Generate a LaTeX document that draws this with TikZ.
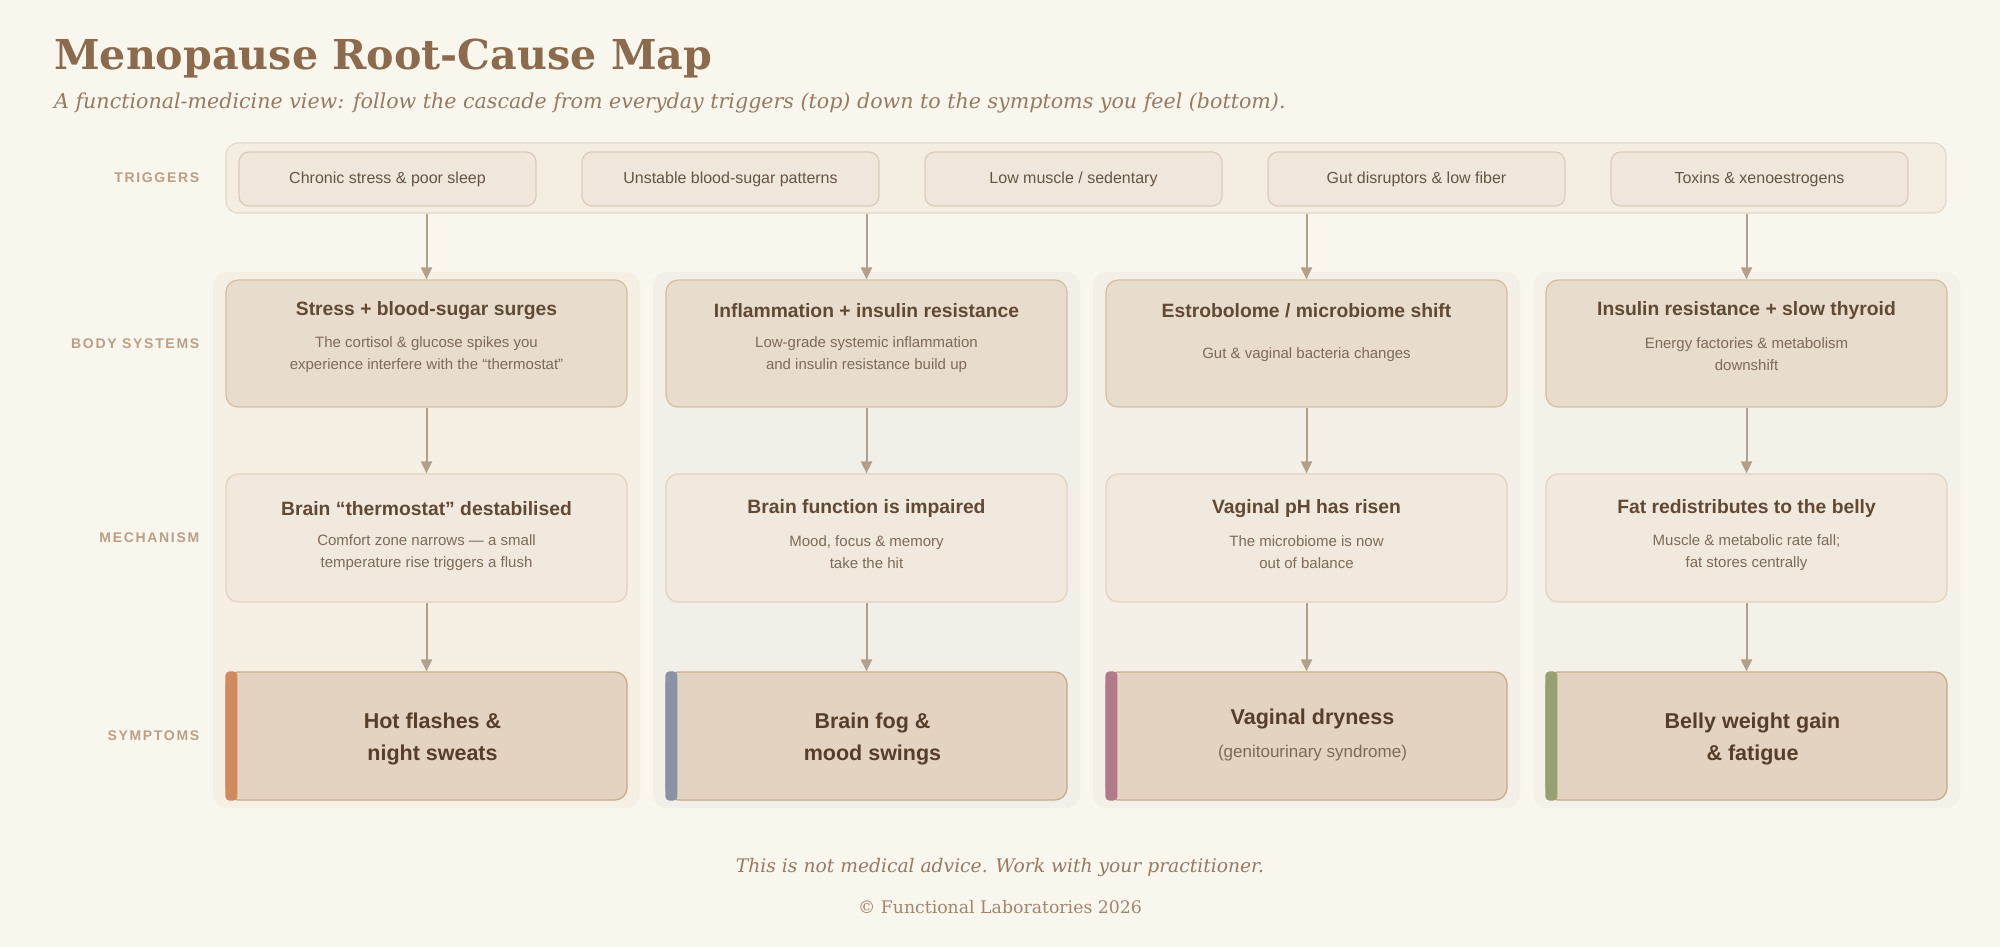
\documentclass[tikz,border=0pt]{standalone}
\usepackage{fontspec}
\setmainfont{DejaVu Serif}
\setsansfont{Liberation Sans}
\newfontfamily\rowfont[LetterSpace=12]{Liberation Sans}
\usetikzlibrary{arrows.meta, positioning, calc}
\definecolor{pagebg}{RGB}{249, 246, 238}
\definecolor{titlec}{RGB}{139, 106, 77}
\definecolor{subc}{RGB}{150, 122, 98}
\definecolor{footc}{RGB}{160, 134, 110}
\definecolor{rowc}{RGB}{185, 160, 135}
\definecolor{rowbg}{RGB}{244, 237, 226}
\definecolor{rowline}{RGB}{228, 216, 200}
\definecolor{trigfill}{RGB}{240, 231, 220}
\definecolor{trigline}{RGB}{218, 204, 187}
\definecolor{trigtxt}{RGB}{100, 85, 70}
\definecolor{panelA}{RGB}{246, 239, 228}
\definecolor{panelB}{RGB}{242, 239, 233}
\definecolor{panelC}{RGB}{244, 239, 231}
\definecolor{panelD}{RGB}{244, 241, 233}
\definecolor{sysfill}{RGB}{232, 221, 204}
\definecolor{sysline}{RGB}{212, 190, 162}
\definecolor{mechfill}{RGB}{241, 233, 222}
\definecolor{mechline}{RGB}{225, 210, 192}
\definecolor{symfill}{RGB}{227, 211, 192}
\definecolor{symline}{RGB}{196, 170, 140}
\definecolor{headtxt}{RGB}{96, 73, 53}
\definecolor{desctxt}{RGB}{125, 106, 90}
\definecolor{symtxt}{RGB}{85, 62, 42}
\definecolor{arrowc}{RGB}{176, 160, 140}
\definecolor{hotbar}{RGB}{208, 138, 98}
\definecolor{fogbar}{RGB}{138, 146, 166}
\definecolor{drybar}{RGB}{176, 122, 140}
\definecolor{bellybar}{RGB}{150, 160, 112}

\begin{document}
\begin{tikzpicture}[
    x=1pt, y=-1pt,
    panel/.style={rounded corners=14pt, minimum width=427pt,
                  minimum height=536pt, inner sep=0pt},
    trigbox/.style={draw=trigline, fill=trigfill, line width=1.2pt,
                    rounded corners=10pt, minimum width=297pt,
                    minimum height=54pt, inner sep=0pt, text=trigtxt,
                    font=\sffamily\fontsize{16}{19}\selectfont},
    sysbox/.style={draw=sysline, fill=sysfill, line width=1.2pt,
                   rounded corners=12pt, minimum width=401pt,
                   minimum height=127pt, inner sep=0pt},
    mechbox/.style={draw=mechline, fill=mechfill, line width=1.2pt,
                    rounded corners=12pt, minimum width=401pt,
                    minimum height=128pt, inner sep=0pt},
    symbox/.style={draw=symline, fill=symfill, line width=1.2pt,
                   rounded corners=12pt, minimum width=401pt,
                   minimum height=128pt, inner sep=0pt},
    headtext/.style={text=headtxt, inner sep=0pt,
                     font=\sffamily\bfseries\fontsize{19.3}{22}\selectfont},
    desctext/.style={text=desctxt, align=center, inner sep=0pt,
                     font=\sffamily\fontsize{15}{22}\selectfont},
    symtext/.style={text=symtxt, align=center, inner sep=0pt,
                    font=\sffamily\bfseries\fontsize{21.5}{32}\selectfont},
    rowlbl/.style={text=rowc, inner sep=0pt,
                   font=\rowfont\bfseries\fontsize{14}{16}\selectfont},
    arr/.style={-{Triangle[length=12pt, width=11pt]}, line width=2pt,
                draw=arrowc},
  ]
    \fill[pagebg] (0,0) rectangle (2000,947);
    \useasboundingbox (0,0) rectangle (2000,947);

    % Heading
    \node[anchor=base west, inner sep=0pt, text=titlec,
          font=\bfseries\fontsize{41.2}{50}\selectfont] (maptitle) at (54,70)
      {Menopause Root-Cause Map};
    \node[anchor=base west, inner sep=0pt, text=subc,
          font=\itshape\fontsize{20.6}{24}\selectfont] (subtitle) at (54,109)
      {A functional-medicine view: follow the cascade from everyday triggers (top) down to the symptoms you feel (bottom).};

    % Column panels
    \node[panel, fill=panelA] (p1) at (426.5,540)  {};
    \node[panel, fill=panelB] (p2) at (866.5,540)  {};
    \node[panel, fill=panelC] (p3) at (1306.5,540) {};
    \node[panel, fill=panelD] (p4) at (1746.5,540) {};

    % Trigger row
    \node[draw=rowline, fill=rowbg, line width=1.2pt, rounded corners=12pt,
          minimum width=1720pt, minimum height=70pt, inner sep=0pt]
      (trigrow) at (1086,178) {};
    \node[trigbox] (t1) at (387.5,179)  {Chronic stress \& poor sleep};
    \node[trigbox] (t2) at (730.5,179)  {Unstable blood-sugar patterns};
    \node[trigbox] (t3) at (1073.5,179) {Low muscle / sedentary};
    \node[trigbox] (t4) at (1416.5,179) {Gut disruptors \& low fiber};
    \node[trigbox] (t5) at (1759.5,179) {Toxins \& xenoestrogens};

    % Body systems
    \node[sysbox] (b1) at (426.5,343.5)  {};
    \node[sysbox] (b2) at (866.5,343.5)  {};
    \node[sysbox] (b3) at (1306.5,343.5) {};
    \node[sysbox] (b4) at (1746.5,343.5) {};
    \node[headtext] (b1h) at ([yshift=-31pt]b1.north) {Stress + blood-sugar surges};
    \node[desctext] (b1d) at ([yshift=-75pt]b1.north)
      {The cortisol \& glucose spikes you\\experience interfere with the “thermostat”};
    \node[headtext] (b2h) at ([yshift=-31pt]b2.north) {Inflammation + insulin resistance};
    \node[desctext] (b2d) at ([yshift=-75pt]b2.north)
      {Low-grade systemic inflammation\\and insulin resistance build up};
    \node[headtext] (b3h) at ([yshift=-31pt]b3.north) {Estrobolome / microbiome shift};
    \node[desctext] (b3d) at ([yshift=-75pt]b3.north)
      {Gut \& vaginal bacteria changes};
    \node[headtext] (b4h) at ([yshift=-31pt]b4.north) {Insulin resistance + slow thyroid};
    \node[desctext] (b4d) at ([yshift=-75pt]b4.north)
      {Energy factories \& metabolism\\downshift};

    % Mechanisms
    \node[mechbox] (m1) at (426.5,538)  {};
    \node[mechbox] (m2) at (866.5,538)  {};
    \node[mechbox] (m3) at (1306.5,538) {};
    \node[mechbox] (m4) at (1746.5,538) {};
    \node[headtext] (m1h) at ([yshift=-35pt]m1.north) {Brain “thermostat” destabilised};
    \node[desctext] (m1d) at ([yshift=-79pt]m1.north)
      {Comfort zone narrows — a small\\temperature rise triggers a flush};
    \node[headtext] (m2h) at ([yshift=-35pt]m2.north) {Brain function is impaired};
    \node[desctext] (m2d) at ([yshift=-79pt]m2.north)
      {Mood, focus \& memory\\take the hit};
    \node[headtext] (m3h) at ([yshift=-35pt]m3.north) {Vaginal pH has risen};
    \node[desctext] (m3d) at ([yshift=-79pt]m3.north)
      {The microbiome is now\\out of balance};
    \node[headtext] (m4h) at ([yshift=-35pt]m4.north) {Fat redistributes to the belly};
    \node[desctext] (m4d) at ([yshift=-79pt]m4.north)
      {Muscle \& metabolic rate fall;\\fat stores centrally};

    % Symptoms
    \node[symbox] (s1) at (426.5,736)  {};
    \node[symbox] (s2) at (866.5,736)  {};
    \node[symbox] (s3) at (1306.5,736) {};
    \node[symbox] (s4) at (1746.5,736) {};
    \fill[hotbar, rounded corners=4pt] (s1.north west) rectangle ([xshift=12pt]s1.south west);
    \fill[fogbar, rounded corners=4pt] (s2.north west) rectangle ([xshift=12pt]s2.south west);
    \fill[drybar, rounded corners=4pt] (s3.north west) rectangle ([xshift=12pt]s3.south west);
    \fill[bellybar, rounded corners=4pt] (s4.north west) rectangle ([xshift=12pt]s4.south west);
    \node[symtext] (s1t) at ([shift={(6pt,-2.5pt)}]s1.center) {Hot flashes \&\\night sweats};
    \node[symtext] (s2t) at ([shift={(6pt,-2.5pt)}]s2.center) {Brain fog \&\\mood swings};
    \node[symtext] (s3t) at ([shift={(6pt,17pt)}]s3.center) {Vaginal dryness};
    \node[desctext, font=\sffamily\fontsize{17}{20}\selectfont]
      (s3d) at ([shift={(6pt,-17pt)}]s3.center) {(genitourinary syndrome)};
    \node[symtext] (s4t) at ([shift={(6pt,-2.5pt)}]s4.center) {Belly weight gain\\\& fatigue};

    % Row labels
    \node[rowlbl, left=26pt of trigrow] (lt) {TRIGGERS};
    \node[rowlbl, left=26pt of b1] (lb) {BODY SYSTEMS};
    \node[rowlbl, left=26pt of m1] (lm) {MECHANISM};
    \node[rowlbl, left=26pt of s1] (ls) {SYMPTOMS};

    \draw[arr] (trigrow.south -| b1.north) -- (b1.north);
    \draw[arr] (trigrow.south -| b2.north) -- (b2.north);
    \draw[arr] (trigrow.south -| b3.north) -- (b3.north);
    \draw[arr] (trigrow.south -| b4.north) -- (b4.north);
    \draw[arr] (b1) -- (m1);
    \draw[arr] (b2) -- (m2);
    \draw[arr] (b3) -- (m3);
    \draw[arr] (b4) -- (m4);
    \draw[arr] (m1) -- (s1);
    \draw[arr] (m2) -- (s2);
    \draw[arr] (m3) -- (s3);
    \draw[arr] (m4) -- (s4);

    % Footer
    \node[anchor=base, inner sep=0pt, text=subc,
          font=\itshape\fontsize{18.7}{22}\selectfont] (note) at (1000,872)
      {This is not medical advice. Work with your practitioner.};
    \node[anchor=base, inner sep=0pt, text=footc,
          font=\fontsize{17.3}{20}\selectfont] (copy) at (1000,913)
      {© Functional Laboratories 2026};
  \end{tikzpicture}
\end{document}
